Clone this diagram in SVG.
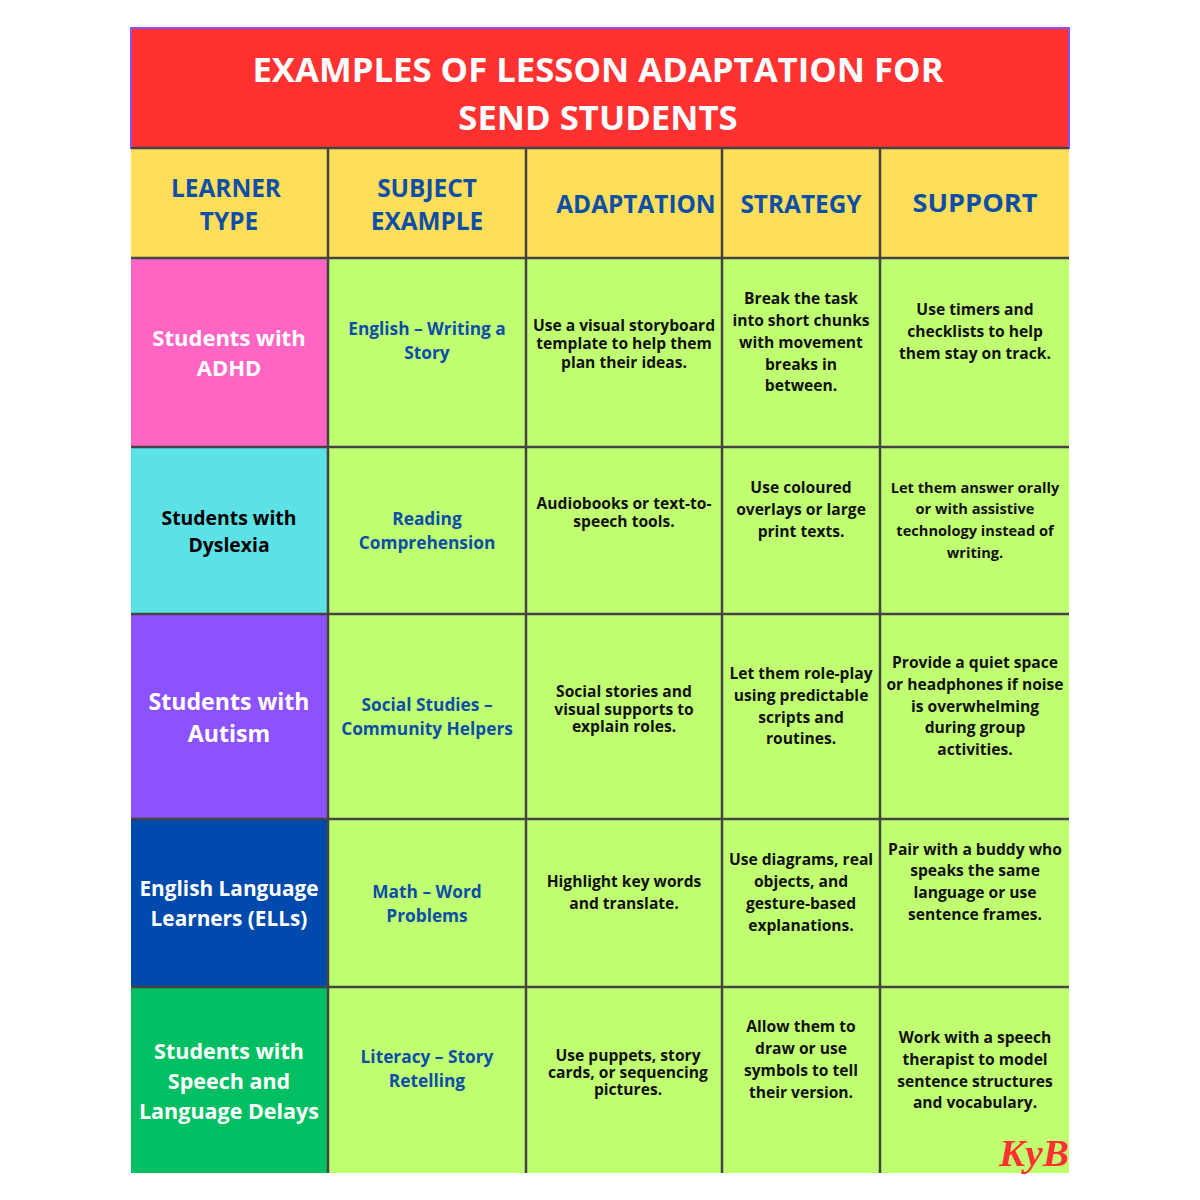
<svg xmlns="http://www.w3.org/2000/svg" width="1200" height="1200" viewBox="0 0 1200 1200">
<style>
text{font-family:"Open Sans","Noto Sans",sans-serif;text-anchor:middle}
.t{font-size:34.7px;font-weight:700;fill:#fff}
.h{font-size:24.4px;font-weight:700;fill:#0d4ea6}
.l{font-size:22px;font-weight:700;fill:#fff}
.s{font-size:17.3px;font-weight:700;fill:#0d4ea6}
.b{font-size:15.6px;font-weight:700;fill:#111}
.c{font-size:14.6px}
.g{stroke:#444;stroke-width:2.5;fill:none}
</style>
<rect width="1200" height="1200" fill="#fff"/>
<g id="title"><rect x="131" y="28" width="938" height="120" fill="#ff3131" stroke="#8c52ff" stroke-width="2"/>
<text class="t" x="598" y="82">EXAMPLES OF LESSON ADAPTATION FOR</text><text class="t" x="598" y="130">SEND STUDENTS</text></g>
<g id="fills">
<rect x="131" y="148" width="938" height="110" fill="#ffde59"/>
<rect x="328" y="258" width="741" height="915" fill="#c1ff72"/>
<rect x="131" y="258" width="197" height="189" fill="#ff66c4"/>
<rect x="131" y="447" width="197" height="167" fill="#5ce1e6"/>
<rect x="131" y="614" width="197" height="205" fill="#8c52ff"/>
<rect x="131" y="819" width="197" height="168" fill="#004aad"/>
<rect x="131" y="987" width="197" height="186" fill="#00bf63"/>
</g>
<g id="connectors" class="g">
<path d="M131 148H1069M131 258H1069M131 447H1069M131 614H1069M131 819H1069M131 987H1069M328 148V1173M526 148V1173M722 148V1173M880 148V1173"/>
</g>
<g id="header">
<text class="h" x="226" y="197">LEARNER</text><text class="h" x="229" y="230">TYPE</text>
<text class="h" x="427" y="197">SUBJECT</text><text class="h" x="427" y="230">EXAMPLE</text>
<text class="h" x="636" y="213">ADAPTATION</text><text class="h" x="801" y="213">STRATEGY</text><text class="h" x="975" y="212" textLength="125" lengthAdjust="spacingAndGlyphs">SUPPORT</text>
</g>
<g id="row1">
<text class="l" x="229" y="346">Students with</text><text class="l" x="229" y="376">ADHD</text>
<text class="s" x="427" y="335">English – Writing a</text><text class="s" x="427" y="359">Story</text>
<text class="b" x="624" y="331">Use a visual storyboard</text><text class="b" x="624" y="349">template to help them</text><text class="b" x="624" y="368">plan their ideas.</text>
<text class="b" x="801" y="304">Break the task</text><text class="b" x="801" y="326">into short chunks</text><text class="b" x="801" y="348">with movement</text><text class="b" x="801" y="370">breaks in</text><text class="b" x="801" y="391">between.</text>
<text class="b" x="975" y="315">Use timers and</text><text class="b" x="975" y="337">checklists to help</text><text class="b" x="975" y="359">them stay on track.</text>
</g>
<g id="row2">
<text class="l" x="229" y="525" style="fill:#000;font-size:19.4px">Students with</text><text class="l" x="229" y="552" style="fill:#000;font-size:19.4px">Dyslexia</text>
<text class="s" x="427" y="525">Reading</text><text class="s" x="427" y="549">Comprehension</text>
<text class="b" x="624" y="509">Audiobooks or text-to-</text><text class="b" x="624" y="527">speech tools.</text>
<text class="b" x="801" y="493">Use coloured</text><text class="b" x="801" y="515">overlays or large</text><text class="b" x="801" y="537">print texts.</text>
<text class="b c" x="975" y="493">Let them answer orally</text><text class="b c" x="975" y="514">or with assistive</text><text class="b c" x="975" y="536">technology instead of</text><text class="b c" x="975" y="558">writing.</text>
</g>
<g id="row3">
<text class="l" x="229" y="710" style="font-size:23.1px">Students with</text><text class="l" x="229" y="742" style="font-size:23.1px">Autism</text>
<text class="s" x="427" y="711">Social Studies –</text><text class="s" x="427" y="735">Community Helpers</text>
<text class="b" x="624" y="697">Social stories and</text><text class="b" x="624" y="715">visual supports to</text><text class="b" x="624" y="732">explain roles.</text>
<text class="b" x="801" y="679">Let them role-play</text><text class="b" x="801" y="701">using predictable</text><text class="b" x="801" y="723">scripts and</text><text class="b" x="801" y="744">routines.</text>
<text class="b" x="975" y="668">Provide a quiet space</text><text class="b" x="975" y="690">or headphones if noise</text><text class="b" x="975" y="712">is overwhelming</text><text class="b" x="975" y="733">during group</text><text class="b" x="975" y="755">activities.</text>
</g>
<g id="row4">
<text class="l" x="229" y="896" style="font-size:20.8px">English Language</text><text class="l" x="229" y="926" style="font-size:20.8px">Learners (ELLs)</text>
<text class="s" x="427" y="898">Math – Word</text><text class="s" x="427" y="922">Problems</text>
<text class="b" x="624" y="887">Highlight key words</text><text class="b" x="624" y="909">and translate.</text>
<text class="b" x="801" y="865">Use diagrams, real</text><text class="b" x="801" y="887">objects, and</text><text class="b" x="801" y="909">gesture-based</text><text class="b" x="801" y="931">explanations.</text>
<text class="b" x="975" y="855">Pair with a buddy who</text><text class="b" x="975" y="876">speaks the same</text><text class="b" x="975" y="898">language or use</text><text class="b" x="975" y="920">sentence frames.</text>
</g>
<g id="row5">
<text class="l" x="229" y="1059" style="font-size:21.5px">Students with</text><text class="l" x="229" y="1089" style="font-size:21.5px">Speech and</text><text class="l" x="229" y="1119" style="font-size:21.5px">Language Delays</text>
<text class="s" x="427" y="1063">Literacy – Story</text><text class="s" x="427" y="1087">Retelling</text>
<text class="b" x="628" y="1061">Use puppets, story</text><text class="b" x="628" y="1078">cards, or sequencing</text><text class="b" x="628" y="1095">pictures.</text>
<text class="b" x="801" y="1032">Allow them to</text><text class="b" x="801" y="1054">draw or use</text><text class="b" x="801" y="1076">symbols to tell</text><text class="b" x="801" y="1098">their version.</text>
<text class="b" x="975" y="1043">Work with a speech</text><text class="b" x="975" y="1065">therapist to model</text><text class="b" x="975" y="1087">sentence structures</text><text class="b" x="975" y="1108">and vocabulary.</text>
</g>
<g id="signature"><text x="1034" y="1166" style="font-family:'Liberation Serif',serif;font-style:italic;font-weight:700;font-size:38px;fill:#ff3131" textLength="70" lengthAdjust="spacingAndGlyphs">KyB</text></g>
</svg>
